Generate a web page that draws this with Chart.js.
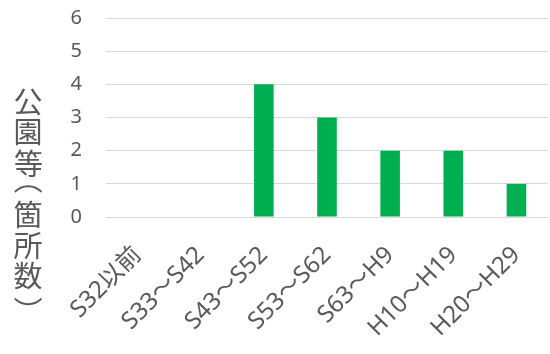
<!DOCTYPE html>
<html>
<head>
<meta charset="utf-8">
<script src="https://cdn.jsdelivr.net/npm/chart.js@4"></script>
<style>
  html, body { margin: 0; padding: 0; background: #fff; }
  #wrap { width: 550px; height: 354px; }
</style>
</head>
<body>
<div id="wrap"><canvas id="chart"></canvas></div>
<script>
// データ
const label = ['S32以前', 'S33～S42', 'S43～S52', 'S53～S62', 'S63～H9', 'H10～H19', 'H20～H29'] // 年代
const kasho = [0, 0, 4, 3, 2, 2, 1] // 公園等の箇所数
const yTicks = [0, 1, 2, 3, 4, 5, 6]
const yTitle = '公園等（箇所数）'

const font = "'Noto Sans', 'Noto Sans CJK JP', sans-serif"

// 縦書きの軸タイトル（括弧は横に倒す）
const verticalTitle = {
    id: 'verticalTitle',
    afterDraw(chart) {
        const ctx = chart.ctx
        ctx.save()
        ctx.fillStyle = '#595959'
        ctx.font = "29px 'Noto Sans CJK JP'"
        const x = 28
        let y = 87
        Array.from(yTitle).forEach(c => {
            const paren = (c === '（' || c === '）')
            const adv = paren ? 21 : 30.5
            const cy = y + adv / 2
            const m = ctx.measureText(c)
            // インクの中心を原点に合わせる
            const icx = (m.actualBoundingBoxRight - m.actualBoundingBoxLeft) / 2
            const icy = (m.actualBoundingBoxDescent - m.actualBoundingBoxAscent) / 2
            ctx.save()
            ctx.translate(x, cy)
            if (paren) ctx.rotate(Math.PI / 2)
            ctx.textAlign = 'left'
            ctx.textBaseline = 'alphabetic'
            ctx.fillText(c, -icx, -icy)
            ctx.restore()
            y += adv
        })
        ctx.restore()
    }
}

let ctx = document.getElementById('chart')
let chart = new Chart(ctx, {
    type: 'bar',
    data: {
        labels: label,
        datasets: [{
            label: '公園等',
            data: kasho,
            backgroundColor: '#00B050',
            borderWidth: 0,
            barPercentage: 0.31,
            categoryPercentage: 1
        }]
    },
    options: {
        responsive: true,
        maintainAspectRatio: false,
        animation: false,
        layout: { padding: { top: 18, right: 2, left: 0, bottom: 0 } },
        plugins: {
            legend: { display: false },
            tooltip: { enabled: false }
        },
        scales: {
            x: {
                grid: { display: false },
                border: { color: '#D9D9D9', width: 1 },
                ticks: {
                    color: '#595959',
                    font: { family: font, size: 24 },
                    maxRotation: 45,
                    minRotation: 45,
                    padding: 16,
                    autoSkip: false
                },
                afterFit(scale) {
                    scale.height = 137
                    scale.paddingLeft = 0
                    scale.paddingRight = 0
                }
            },
            y: {
                min: 0,
                max: 6,
                afterBuildTicks(scale) { scale.ticks = yTicks.map(v => ({ value: v })) },
                grid: { color: '#D9D9D9', lineWidth: 1, drawTicks: false },
                border: { display: false },
                ticks: {
                    color: '#595959',
                    font: { family: font, size: 20 },
                    padding: 24
                },
                afterFit(scale) {
                    scale.width = 106
                    scale.paddingTop = 0
                    scale.paddingBottom = 0
                }
            }
        }
    },
    plugins: [verticalTitle]
});
</script>
</body>
</html>
